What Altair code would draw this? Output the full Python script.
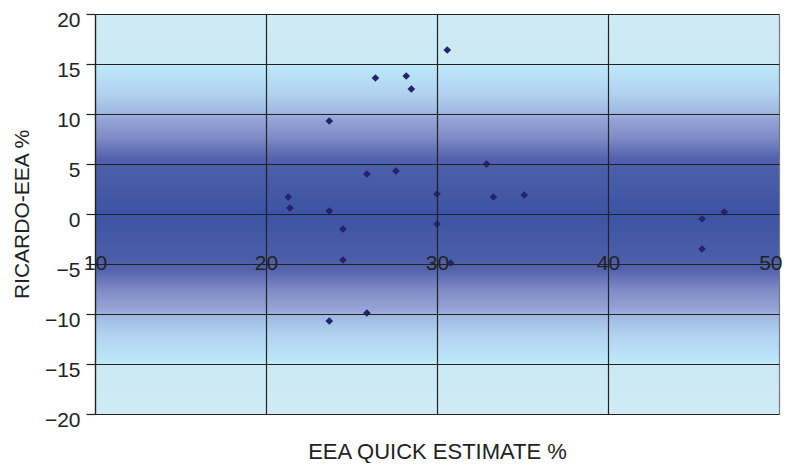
import altair as alt
import pandas as pd

# EEA quick estimate (%) and Ricardo - EEA difference (%)
eea = [21.3, 21.4, 30.6, 26.4, 28.2, 28.5, 23.7, 25.9, 27.6, 32.9, 23.7, 24.5,
       30.0, 33.3, 35.1, 30.0, 45.5, 46.8, 24.5, 30.8, 25.9, 23.7, 45.5]
diff = [1.7, 0.6, 16.4, 13.6, 13.8, 12.5, 9.3, 4.0, 4.3, 5.0, 0.3, -1.5,
        2.0, 1.7, 1.9, -1.0, -0.5, 0.2, -4.6, -4.9, -9.9, -10.7, -3.5]

x_ticks = [10, 20, 30, 40, 50]
y_ticks = [-20, -15, -10, -5, 0, 5, 10, 15, 20]

grad_offsets = [0.0, 0.12, 0.135, 0.2, 0.245, 0.26, 0.31, 0.36, 0.385, 0.5,
                0.615, 0.64, 0.69, 0.74, 0.755, 0.8, 0.865, 0.88, 1.0]
grad_colors = ["#d0ebf4", "#cbe9f4", "#bce6f9", "#b0d2ef", "#a0b8e1", "#96a6d7",
               "#7e8bc6", "#5563ae", "#4c5ea9", "#3c54a4",
               "#4c5ea9", "#5563ae", "#7e8bc6", "#96a6d7", "#a0b8e1", "#b0d2ef",
               "#bce6f9", "#cbe9f4", "#d0ebf4"]

W, H = 684, 400
FONT = "Liberation Sans"
INK = "#222222"

df = pd.DataFrame({"eea": eea, "diff": diff})
bgdf = pd.DataFrame({"x0": [x_ticks[0]], "x1": [x_ticks[-1]],
                     "y0": [y_ticks[0]], "y1": [y_ticks[-1]]})

xscale = alt.Scale(domain=[x_ticks[0], x_ticks[-1]], nice=False, zero=False)
yscale = alt.Scale(domain=[y_ticks[0], y_ticks[-1]], nice=False, zero=False)

xaxis = alt.Axis(
    values=x_ticks, orient="bottom", offset=-151, zindex=1,
    grid=True, gridWidth=1.2, gridOpacity=1,
    gridColor={"condition": {"test": "datum.value == 50", "value": "#777777"}, "value": INK},
    domain=False, ticks=False, tickSize=0,
    labelPadding=0, labelBaseline="middle", labelFlush=False, labelOverlap=False,
    labelAlign={"condition": {"test": "datum.value == 50", "value": "right"}, "value": "center"},
    labelOffset={"condition": {"test": "datum.value == 50", "value": 3}, "value": 0},
    labelFont=FONT, labelFontSize=21, labelColor=INK,
    title="EEA QUICK ESTIMATE %", titleFont=FONT, titleFontSize=22,
    titleFontWeight="normal", titleColor=INK, titleY=188, titleBaseline="middle",
)
yaxis = alt.Axis(
    values=y_ticks, orient="left", zindex=1,
    grid=True, gridWidth=1.2, gridOpacity=1, gridColor=INK,
    domain=True, domainColor=INK, domainWidth=1.2,
    ticks=True, tickSize=9, tickColor=INK, tickWidth=1.2,
    labelPadding=6, labelOffset=6, labelFlush=False, labelOverlap=False,
    labelFont=FONT, labelFontSize=21, labelColor=INK,
    title="RICARDO-EEA %", titleFont=FONT, titleFontSize=21,
    titleFontWeight="normal", titleColor=INK, titleX=-73, titleY=200,
    titleAngle=270, titleAlign="center", titleBaseline="middle",
)

grad = alt.LinearGradient(
    gradient="linear", x1=0, x2=0, y1=0, y2=1,
    stops=[alt.GradientStop(offset=o, color=c) for o, c in zip(grad_offsets, grad_colors)],
)

bg = alt.Chart(bgdf).mark_rect(fill=grad, strokeWidth=0).encode(
    x=alt.X("x0:Q", scale=xscale, axis=xaxis),
    x2="x1:Q",
    y=alt.Y("y0:Q", scale=yscale, axis=yaxis),
    y2="y1:Q",
)

pts = alt.Chart(df).mark_point(shape="diamond", filled=True, size=60,
                               color="#25236e", opacity=1).encode(
    x=alt.X("eea:Q", scale=xscale, axis=xaxis),
    y=alt.Y("diff:Q", scale=yscale, axis=yaxis),
)

chart = alt.layer(bg, pts).properties(
    width=W, height=H,
    autosize=alt.AutoSizeParams(type="none"),
    padding={"left": 87, "top": 6, "right": 3, "bottom": 49},
).configure_view(stroke=None)

chart.save("out.html", embed_options={"renderer": "svg", "actions": False})
